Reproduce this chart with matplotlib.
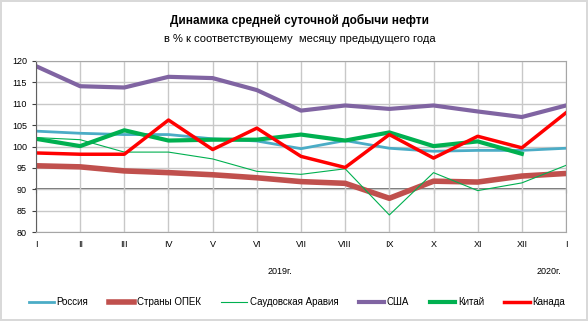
import matplotlib.pyplot as plt
import numpy as np

plt.rcParams['font.family'] = ['Liberation Sans', 'DejaVu Sans']

months = ['I', 'II', 'III', 'IV', 'V', 'VI', 'VII', 'VIII', 'IX', 'X', 'XI', 'XII', 'I']
russia = [103.6, 103.1, 102.8, 102.8, 101.8, 101.3, 99.5, 101.4, 99.6, 98.9, 99.1, 99.1, 99.6]
opec = [95.5, 95.25, 94.3, 93.9, 93.4, 92.7, 91.8, 91.4, 87.9, 91.9, 91.7, 93.1, 93.7]
saudi = [102.1, 101.6, 98.7, 98.7, 97.1, 94.2, 93.5, 94.8, 84.0, 93.9, 89.7, 91.5, 95.6]
usa = [118.8, 114.1, 113.8, 116.3, 116.0, 113.2, 108.4, 109.6, 108.8, 109.6, 108.2, 106.9, 109.6]
china = [101.8, 100.1, 103.8, 101.4, 101.6, 101.6, 102.8, 101.4, 103.3, 100.1, 101.2, 98.3, np.nan]
canada = [98.5, 98.2, 98.2, 106.2, 99.3, 104.3, 97.7, 95.1, 102.8, 97.3, 102.4, 99.7, 107.9]

x = np.arange(len(months))

fig = plt.figure(figsize=(5.88, 3.21), dpi=100)
fig.patch.set_edgecolor('#d9d9d9')
fig.patch.set_linewidth(1.5)
ax = fig.add_axes([0.0612, 0.277, 0.9014, 0.533])

ax.plot(x, russia, color='#4bacc6', lw=2, label='Россия')
ax.plot(x, opec, color='#c0504d', lw=4, label='Страны ОПЕК')
ax.plot(x, saudi, color='#00b050', lw=0.8, label='Саудовская Аравия')
ax.plot(x, usa, color='#8064a2', lw=3, label='США')
ax.plot(x, china, color='#00b050', lw=3, label='Китай')
ax.plot(x, canada, color='#ff0000', lw=2.5, label='Канада')

ax.set_xlim(0, 12)
ax.set_ylim(80, 120)
ax.set_yticks(np.arange(80, 121, 5))
ax.set_xticks(x)
ax.set_xticklabels(months)
ax.grid(True, color='#c8c8c8', lw=1)
ax.set_axisbelow(True)
ax.tick_params(axis='both', labelsize=6.5, length=3, color='#404040')
ax.tick_params(axis='x', length=0, pad=6)
for s in ['top', 'right', 'bottom']:
    ax.spines[s].set_color('#a6a6a6')
ax.spines['left'].set_color('#606060')

# axis line crossing at 90 with ticks
sec = ax.secondary_xaxis(0.25)
sec.set_xticks(x)
sec.set_xticklabels([])
sec.tick_params(length=3, color='#404040')
sec.spines['bottom'].set_color('#606060')
sec.spines['bottom'].set_linewidth(1.3)

fig.text(0.51, 0.925, 'Динамика средней суточной добычи нефти', ha='center',
         fontsize=8.5, fontweight='bold')
fig.text(0.51, 0.868, 'в % к соответствующему  месяцу предыдущего года', ha='center',
         fontsize=8)
fig.text(0.476, 0.145, '2019г.', ha='center', fontsize=6.5)
fig.text(0.933, 0.145, '2020г.', ha='center', fontsize=6.5)

fig.legend(loc='center', bbox_to_anchor=(0.505, 0.058), ncol=6, frameon=False,
           fontsize=7, handlelength=2.6, columnspacing=2.1, handletextpad=0.3)

plt.savefig('out.png', dpi=100)
